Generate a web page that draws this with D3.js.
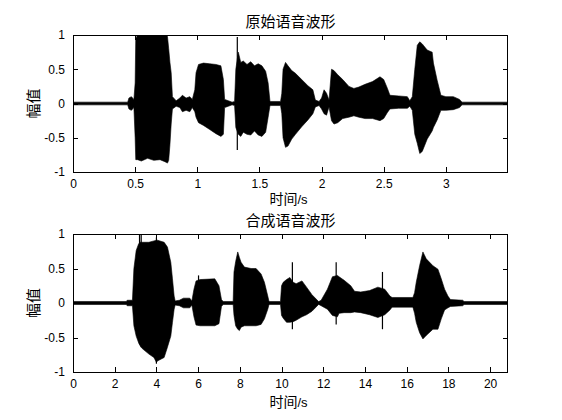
<!DOCTYPE html>
<html><head><meta charset="utf-8">
<script src="https://cdn.jsdelivr.net/npm/d3@7"></script>
<style>
html,body{margin:0;padding:0;background:#fff;}
text{font-family:"Liberation Sans",Arial,sans-serif;}
.cjk{font-family:"Noto Sans CJK SC","Noto Sans",sans-serif;}
</style></head>
<body>
<svg id="chart" width="562" height="420"></svg>
<script>
// ---------- data (envelopes) ----------
const origTitle = "原始语音波形";
const synthTitle = "合成语音波形";
const xLabel = "时间";
const yLabel = "幅值";

const origXTicks = [0, 0.5, 1, 1.5, 2, 2.5, 3];
const origXTickLabels = ["0", "0.5", "1", "1.5", "2", "2.5", "3"];
const synthXTicks = [0, 2, 4, 6, 8, 10, 12, 14, 16, 18, 20];
const synthXTickLabels = ["0", "2", "4", "6", "8", "10", "12", "14", "16", "18", "20"];
const yTicks = [-1, -0.5, 0, 0.5, 1];
const yTickLabels = ["-1", "-0.5", "0", "0.5", "1"];

// original waveform envelope
const origTime  = [0.00,0.44,0.45,0.47,0.49,0.50,0.505,0.52,0.55,0.60,0.65,0.70,0.74,0.76,0.77,0.78,0.79,0.80,0.83,0.86,0.88,0.91,0.94,0.96,0.98,0.99,1.01,1.05,1.10,1.15,1.19,1.21,1.22,1.25,1.28,1.30,1.31,1.33,1.35,1.37,1.40,1.43,1.46,1.49,1.52,1.55,1.57,1.585,1.67,1.68,1.69,1.71,1.73,1.76,1.79,1.84,1.89,1.93,1.95,1.98,2.00,2.02,2.04,2.06,2.08,2.10,2.13,2.17,2.22,2.26,2.30,2.35,2.41,2.47,2.50,2.53,2.55,2.62,2.69,2.71,2.73,2.75,2.77,2.79,2.81,2.85,2.89,2.90,2.93,2.96,3.00,3.06,3.11,3.13,3.50];
const origUpper = [0.02,0.02,0.08,0.10,0.06,0.30,0.95,1.00,1.00,1.00,1.00,1.00,1.00,0.98,0.80,0.60,0.45,0.10,0.04,0.08,0.12,0.08,0.10,0.06,0.20,0.45,0.57,0.59,0.58,0.57,0.55,0.35,0.06,0.04,0.02,0.03,0.50,0.75,0.60,0.62,0.57,0.61,0.55,0.58,0.55,0.47,0.30,0.03,0.03,0.15,0.50,0.60,0.55,0.48,0.44,0.35,0.26,0.20,0.05,0.03,0.08,0.20,0.15,0.05,0.50,0.48,0.42,0.35,0.25,0.22,0.24,0.28,0.32,0.39,0.35,0.22,0.12,0.11,0.10,0.04,0.10,0.50,0.85,0.90,0.87,0.78,0.75,0.59,0.34,0.12,0.10,0.10,0.06,0.02,0.02];
const origLower = [-0.02,-0.02,-0.08,-0.10,-0.06,-0.50,-0.82,-0.82,-0.84,-0.80,-0.83,-0.82,-0.85,-0.87,-0.83,-0.60,-0.30,-0.08,-0.04,-0.06,-0.12,-0.10,-0.12,-0.06,-0.12,-0.20,-0.28,-0.32,-0.38,-0.44,-0.48,-0.45,-0.06,-0.04,-0.02,-0.03,-0.35,-0.45,-0.48,-0.42,-0.45,-0.46,-0.40,-0.46,-0.48,-0.42,-0.20,-0.03,-0.03,-0.15,-0.50,-0.64,-0.62,-0.52,-0.45,-0.34,-0.24,-0.15,-0.05,-0.03,-0.08,-0.15,-0.17,-0.05,-0.25,-0.30,-0.28,-0.22,-0.20,-0.18,-0.20,-0.22,-0.22,-0.25,-0.22,-0.13,-0.08,-0.07,-0.07,-0.04,-0.10,-0.45,-0.58,-0.73,-0.70,-0.52,-0.40,-0.35,-0.24,-0.10,-0.10,-0.09,-0.06,-0.02,-0.02];
const origSpikeTime = [1.322];
const origSpikeTop = [0.97];
const origSpikeBottom = [-0.68];

// synthesized waveform envelope
const synthTime  = [0.00,2.55,2.60,2.85,2.92,3.03,3.15,3.22,3.32,3.64,3.88,4.00,4.05,4.37,4.53,4.69,4.77,4.85,4.90,5.10,5.30,5.60,5.70,5.80,5.90,6.10,6.80,7.00,7.12,7.20,7.68,7.72,7.80,7.90,7.98,8.06,8.22,8.54,8.78,9.02,9.18,9.34,9.40,9.95,10.00,10.08,10.24,10.40,10.56,10.70,10.98,11.20,11.46,11.78,11.90,12.20,12.44,12.68,12.76,13.00,13.32,13.50,13.80,14.22,14.62,14.95,15.20,15.30,16.30,16.38,16.46,16.62,16.78,16.94,17.26,17.50,17.66,17.82,17.98,18.10,18.69,18.75,20.86];
const synthUpper = [0.022,0.022,0.04,0.04,0.50,0.76,0.86,0.88,0.88,0.88,0.90,0.91,0.91,0.88,0.81,0.59,0.35,0.10,0.03,0.04,0.07,0.07,0.03,0.20,0.32,0.34,0.35,0.25,0.05,0.022,0.022,0.45,0.60,0.74,0.66,0.59,0.52,0.50,0.50,0.42,0.30,0.10,0.022,0.022,0.25,0.30,0.34,0.37,0.30,0.28,0.32,0.23,0.12,0.02,0.04,0.20,0.38,0.40,0.38,0.33,0.25,0.17,0.16,0.18,0.23,0.20,0.10,0.08,0.08,0.15,0.30,0.54,0.74,0.64,0.54,0.49,0.35,0.20,0.10,0.05,0.04,0.022,0.022];
const synthLower = [-0.022,-0.022,-0.04,-0.04,-0.33,-0.48,-0.58,-0.62,-0.66,-0.74,-0.79,-0.86,-0.84,-0.79,-0.64,-0.48,-0.28,-0.09,-0.03,-0.04,-0.07,-0.07,-0.03,-0.20,-0.32,-0.33,-0.33,-0.30,-0.05,-0.022,-0.022,-0.18,-0.33,-0.38,-0.40,-0.35,-0.33,-0.33,-0.33,-0.31,-0.23,-0.09,-0.022,-0.022,-0.18,-0.22,-0.28,-0.28,-0.27,-0.25,-0.20,-0.17,-0.12,-0.02,-0.04,-0.09,-0.18,-0.20,-0.15,-0.14,-0.14,-0.13,-0.14,-0.17,-0.21,-0.17,-0.10,-0.06,-0.06,-0.15,-0.28,-0.43,-0.52,-0.47,-0.38,-0.38,-0.23,-0.10,-0.07,-0.05,-0.04,-0.022,-0.022];
const synthSpikeTime = [3.19, 3.27, 4.00, 6.02, 10.52, 12.62, 14.84];
const synthSpikeTop = [1.00, 1.00, 0.95, 0.40, 0.59, 0.59, 0.45];
const synthSpikeBottom = [-0.60, -0.64, -0.88, -0.32, -0.38, -0.31, -0.38];

// ---------- drawing ----------
const svg = d3.select("#chart");
svg.append("rect").attr("width",562).attr("height",420).attr("fill","#fff");

function panel(cfg) {
  const L = 73, R = 508;
  const x = d3.scaleLinear().domain([0, cfg.xmax]).range([L, R]);
  const y = d3.scaleLinear().domain([-1, 1]).range([cfg.bottom, cfg.top]);
  const g = svg.append("g");
  const clipId = "clip" + cfg.id;
  svg.append("clipPath").attr("id", clipId).append("rect")
    .attr("x", L).attr("y", cfg.top).attr("width", R - L).attr("height", cfg.bottom - cfg.top);

  const pts = cfg.time.map((t, i) => ({t, u: cfg.upper[i], l: cfg.lower[i]}));
  const area = d3.area().x(d => x(d.t)).y0(d => y(d.l)).y1(d => y(d.u));
  const wg = g.append("g").attr("clip-path", `url(#${clipId})`);
  wg.append("path").datum(pts).attr("d", area).attr("fill", "#000")
    .attr("stroke", "#000").attr("stroke-width", 0.6);
  wg.selectAll("line.spike").data(cfg.spikeTime).enter().append("line")
    .attr("x1", d => x(d)).attr("x2", d => x(d))
    .attr("y1", (d, i) => y(cfg.spikeTop[i])).attr("y2", (d, i) => y(cfg.spikeBottom[i]))
    .attr("stroke", "#000").attr("stroke-width", 1.2);

  // axes (MATLAB-like box with inward ticks)
  const tl = 5;
  const xb = d3.axisBottom(x).tickValues(cfg.xticks).tickFormat((d, i) => cfg.xlabels[i]).tickSizeInner(-tl).tickSizeOuter(0).tickPadding(7);
  const xt = d3.axisTop(x).tickValues(cfg.xticks).tickFormat("").tickSizeInner(-tl).tickSizeOuter(0);
  const yl = d3.axisLeft(y).tickValues(yTicks).tickFormat((d, i) => yTickLabels[i]).tickSizeInner(-tl).tickSizeOuter(0).tickPadding(8);
  const yr = d3.axisRight(y).tickValues(yTicks).tickFormat("").tickSizeInner(-tl).tickSizeOuter(0);
  const ax = [
    g.append("g").attr("transform", `translate(0,${cfg.bottom})`).call(xb),
    g.append("g").attr("transform", `translate(0,${cfg.top})`).call(xt),
    g.append("g").attr("transform", `translate(${L},0)`).call(yl),
    g.append("g").attr("transform", `translate(${R},0)`).call(yr)
  ];
  ax.forEach(a => {
    a.select(".domain").remove();
    a.selectAll("line").attr("stroke", "#000").attr("shape-rendering", "crispEdges");
    a.selectAll("text").attr("fill", "#000").style("font-size", "12px")
      .style("font-family", '"Liberation Sans", Arial, sans-serif');
  });
  g.append("rect").attr("x", L + 0.5).attr("y", cfg.top + 0.5).attr("width", R - L - 1).attr("height", cfg.bottom - cfg.top)
    .attr("fill", "none").attr("stroke", "#000").attr("stroke-width", 1).attr("shape-rendering", "crispEdges");

  // titles and labels
  const cx = (L + R) / 2;
  g.append("text").attr("class", "cjk").attr("x", cx).attr("y", cfg.top - 8)
    .attr("text-anchor", "middle").style("font-size", "15px").attr("fill", "#000").text(cfg.title);
  const xlab = g.append("text").attr("x", cx - 2).attr("y", cfg.bottom + cfg.xlabOffset)
    .attr("text-anchor", "middle").attr("fill", "#000");
  xlab.append("tspan").attr("class", "cjk").style("font-size", "14px").text(xLabel);
  xlab.append("tspan").style("font-size", "13px").style("font-family", '"Liberation Sans", Arial, sans-serif').text("/s");
  const cy = (cfg.top + cfg.bottom) / 2;
  g.append("text").attr("class", "cjk").attr("transform", `translate(39,${cy}) rotate(-90)`)
    .attr("text-anchor", "middle").style("font-size", "15px").attr("fill", "#000").text(yLabel);
}

panel({id: 1, top: 35, bottom: 172, xmax: 3.5, time: origTime, upper: origUpper, lower: origLower,
  spikeTime: origSpikeTime, spikeTop: origSpikeTop, spikeBottom: origSpikeBottom,
  xticks: origXTicks, xlabels: origXTickLabels, title: origTitle, xlabOffset: 32});
panel({id: 2, top: 234, bottom: 372, xmax: 20.86, time: synthTime, upper: synthUpper, lower: synthLower,
  spikeTime: synthSpikeTime, spikeTop: synthSpikeTop, spikeBottom: synthSpikeBottom,
  xticks: synthXTicks, xlabels: synthXTickLabels, title: synthTitle, xlabOffset: 35});
</script>
</body></html>
